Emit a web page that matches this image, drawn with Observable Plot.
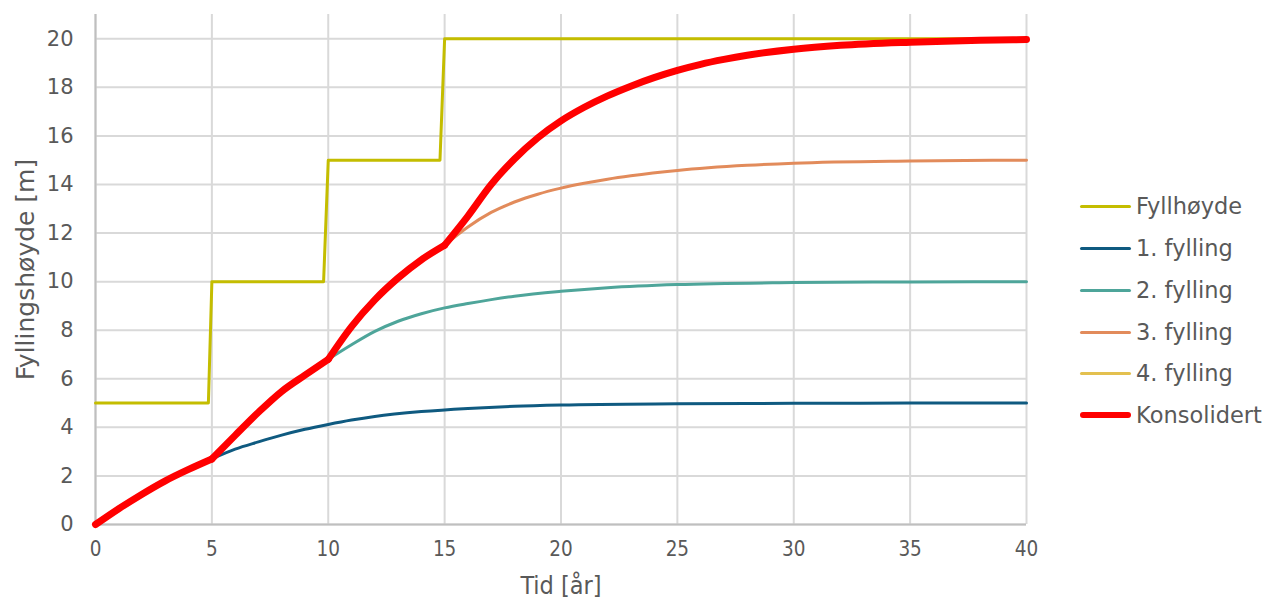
<!DOCTYPE html>
<html><head><meta charset="utf-8">
<script src="https://cdn.jsdelivr.net/npm/d3@7"></script>
<script src="https://cdn.jsdelivr.net/npm/@observablehq/plot@0.6"></script>
<style>
body{margin:0;background:#fff;}
#wrap{position:relative;width:1276px;height:602px;}
#legend{position:absolute;left:1080px;top:0;font-family:"DejaVu Sans";font-size:22.5px;color:#595959;}
.item{position:absolute;left:0;display:flex;align-items:center;white-space:nowrap;height:28px;}
.sw{width:51px;border-radius:2px;margin-right:5px;}
</style></head>
<body>
<div id="wrap"><div id="legend"></div></div>
<script>
// Fyllhøyde (step)
const fyllT = [0, 4.85, 5, 9.8, 10, 14.8, 15, 40];
const fyllH = [5, 5, 10, 10, 15, 15, 20, 20];
// 1. fylling
const f1T = [0,1,2,3,4,5,6,7,8,9,10,11,12,14,16,18,20,25,30,35,40];
const f1V = [0,0.65,1.25,1.8,2.27,2.7,3.1,3.4,3.68,3.92,4.12,4.3,4.45,4.65,4.78,4.87,4.92,4.97,4.99,5,5];
// 2. fylling
const f2T = [5,6,7,8,9,10,11,12,13,14,15,16,17,18,20,22,25,30,35,40];
const f2V = [2.7,3.67,4.62,5.48,6.15,6.8,7.4,7.95,8.37,8.68,8.92,9.1,9.26,9.4,9.6,9.75,9.88,9.96,9.99,10];
// 3. fylling
const f3T = [10,11,12,13,14,15,16,17,18,19,20,21,22,23,25,28,30,35,40];
const f3V = [6.8,8.15,9.25,10.15,10.9,11.5,12.25,12.85,13.28,13.6,13.85,14.05,14.22,14.36,14.58,14.79,14.88,14.97,15];
// 4. fylling
const f4T = [15,16,17,18,19,20,21,22,23,24,25,26,27,28,30,32,35,38,40];
const f4V = [11.5,12.7,14.0,15.05,15.92,16.62,17.18,17.65,18.05,18.4,18.7,18.95,19.15,19.32,19.57,19.73,19.86,19.94,19.97];
// Konsolidert
const konsT = [0,1,2,3,4,5,6,7,8,9,10,11,12,13,14,15,16,17,18,19,20,21,22,23,24,25,26,27,28,30,32,35,38,40];
const konsV = [0,0.65,1.25,1.8,2.27,2.7,3.67,4.62,5.48,6.15,6.8,8.15,9.25,10.15,10.9,11.5,12.7,14.0,15.05,15.92,16.62,17.18,17.65,18.05,18.4,18.7,18.95,19.15,19.32,19.57,19.73,19.86,19.94,19.97];

const seriesNames = ["Fyllhøyde","1. fylling","2. fylling","3. fylling","4. fylling","Konsolidert"];
const seriesColors = ["#c4bd00","#0f5a80","#4ea59a","#e28b5b","#e3c04f","#ff0000"];
const xTicks = [0,5,10,15,20,25,30,35,40];
const yTicks = [0,2,4,6,8,10,12,14,16,18,20];
const xLabel = "Tid [år]";
const yLabel = "Fyllingshøyde [m]";

const fyll = fyllT.map((t, i) => ({t, v: fyllH[i]}));
// split a curve at kinks (new filling events) so each part is smooth
const splitAt = (T, V, breaks) => {
  const out = [];
  T.forEach((t, i) => {
    const seg = breaks.filter(b => t >= b).length;
    out.push({t, v: V[i], seg});
    if (breaks.includes(t)) out.push({t, v: V[i], seg: seg - 1});
  });
  return out;
};
const s1 = splitAt(f1T, f1V, [5]);
const s2 = splitAt(f2T, f2V, [10]);
const s3 = splitAt(f3T, f3V, [15]);
const s4 = splitAt(f4T, f4V, []);
const kons = splitAt(konsT, konsV, [5, 10, 15]);

const col = Object.fromEntries(seriesNames.map((n, i) => [n, seriesColors[i]]));
const thin = (data, name) => Plot.line(data, {x: "t", y: "v", z: "seg", stroke: col[name], strokeWidth: 3, curve: "monotone-x", strokeLinecap: "round", strokeLinejoin: "round"});

const chart = Plot.plot({
  width: 1276, height: 602,
  marginLeft: 95, marginRight: 250, marginTop: 14, marginBottom: 78,
  x: {domain: [0, 40]},
  y: {domain: [0, 21]},
  style: {fontFamily: "DejaVu Sans", fontSize: "21px", color: "#595959", background: "white"},
  marks: [
    Plot.gridX(xTicks, {stroke: "#d9d9d9", strokeOpacity: 1, strokeWidth: 2}),
    Plot.gridY(yTicks, {stroke: "#d9d9d9", strokeOpacity: 1, strokeWidth: 2}),
    Plot.ruleX([0], {stroke: "#bfbfbf", strokeWidth: 2}),
    Plot.ruleY([0], {stroke: "#bfbfbf", strokeWidth: 2}),
    Plot.axisY(yTicks, {tickSize: 0, tickPadding: 22, label: null, fontSize: 21, fill: "#595959"}),
    Plot.axisX(xTicks, {tickSize: 0, tickPadding: 17, label: null, fontSize: 20.5, fill: "#595959", fontFamily: "DejaVu Sans Condensed"}),
    Plot.text([yLabel], {frameAnchor: "left", dx: -70, rotate: -90, text: d => d, textAnchor: "middle", lineAnchor: "middle", fontSize: 25, fill: "#595959"}),
    Plot.text([xLabel], {frameAnchor: "bottom", dy: 61, text: d => d, textAnchor: "middle", lineAnchor: "middle", fontSize: 25, fill: "#595959", fontFamily: "DejaVu Sans Condensed"}),
    Plot.line(fyll, {x: "t", y: "v", stroke: col["Fyllhøyde"], strokeWidth: 3}),
    thin(s1, "1. fylling"),
    thin(s2, "2. fylling"),
    thin(s3, "3. fylling"),
    thin(s4, "4. fylling"),
    Plot.line(kons, {x: "t", y: "v", z: "seg", stroke: col["Konsolidert"], strokeWidth: 7, curve: "monotone-x", strokeLinecap: "round", strokeLinejoin: "round"})
  ]
});
document.getElementById("wrap").prepend(chart);

const legendY = [206, 248, 290, 332, 373, 415];
const leg = document.getElementById("legend");
seriesNames.forEach((n, i) => {
  const it = document.createElement("div");
  it.className = "item";
  it.style.top = (legendY[i] - 14) + "px";
  const sw = document.createElement("div");
  sw.className = "sw";
  sw.style.background = seriesColors[i];
  sw.style.height = (n === "Konsolidert" ? 6 : 3) + "px";
  if (n === "Konsolidert") sw.style.borderRadius = "3px";
  it.appendChild(sw);
  const tx = document.createElement("span");
  tx.textContent = n;
  it.appendChild(tx);
  leg.appendChild(it);
});
</script>
</body></html>
